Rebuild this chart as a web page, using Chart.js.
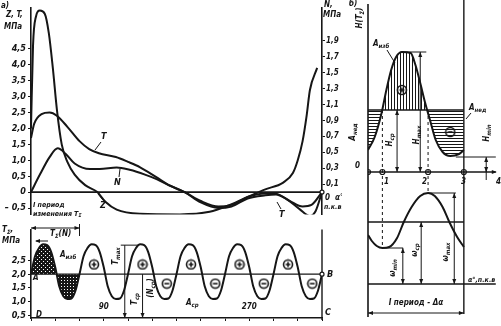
<!DOCTYPE html>
<html>
<head>
<meta charset="utf-8">
<script src="https://cdn.jsdelivr.net/npm/chart.js@4.4.1/dist/chart.umd.min.js"></script>
<style>
  body { margin: 0; background: #fff; width: 501px; height: 326px; overflow: hidden; position: relative; }
  .panel { position: absolute; }
</style>
</head>
<body>
<div class="panel" style="left:0;top:0;width:342px;height:222px"><canvas id="chartA"></canvas></div>
<div class="panel" style="left:0;top:222px;width:342px;height:104px"><canvas id="chartB"></canvas></div>
<div class="panel" style="left:340px;top:0;width:161px;height:326px"><canvas id="chartC"></canvas></div>
<script>
// --- panel a: forces over one crank revolution (deg) ---
const zAngles = [0, 2.5, 6, 11, 17, 22, 27, 32, 38, 45, 54, 67, 82, 92, 106, 135, 184, 221, 246, 271, 289, 312, 324, 330, 336, 341, 345, 354];
const zValues = [2.0, 4.6, 5.5, 5.7, 5.6, 5.0, 3.9, 2.6, 1.5, 0.95, 0.55, 0.22, 0, -0.3, -0.55, -0.68, -0.7, -0.62, -0.4, -0.12, 0.08, 0.3, 0.6, 1.0, 1.6, 2.4, 3.2, 3.9];
const tAngles = [0, 4, 13, 23, 32, 45, 60, 72, 84, 105, 120, 135, 155, 172, 190, 210, 232, 248, 268, 290, 303, 318, 333, 345, 352, 360];
const tValues = [1.7, 2.15, 2.45, 2.5, 2.4, 2.05, 1.6, 1.35, 1.22, 1.1, 0.95, 0.78, 0.47, 0.2, 0, -0.28, -0.45, -0.4, -0.15, -0.04, -0.05, -0.25, -0.55, -0.75, -0.6, 0];
const nAngles = [0, 11, 23, 33, 43, 54, 73, 85, 106, 122, 141, 156, 172, 190, 210, 232, 248, 268, 290, 303, 320, 336, 347, 360];
const nValues = [0, 0.22, 0.44, 0.55, 0.48, 0.36, 0.29, 0.29, 0.31, 0.28, 0.22, 0.16, 0.08, 0, -0.13, -0.2, -0.18, -0.08, -0.04, -0.03, -0.11, -0.18, -0.16, 0];
const leftTicks = [-0.5, 0, 0.5, 1.0, 1.5, 2.0, 2.5, 3.0, 3.5, 4.0, 4.5];
const rightTicks = [0.1, 0.3, 0.5, 0.7, 0.9, 1.1, 1.3, 1.5, 1.7, 1.9];

// --- lower left: total torque T_sum(N) ---
const sumAngles = [0, 5, 10, 15, 20, 25, 30, 35, 40, 45, 50, 55,
  60, 65, 70, 75, 80, 85, 90, 95, 100, 105, 110, 115,
  120, 125, 130, 135, 140, 145, 150, 155, 160, 165, 170, 175,
  180, 185, 190, 195, 200, 205, 210, 215, 220, 225, 230, 235,
  240, 245, 250, 255, 260, 265, 270, 275, 280, 285, 290, 295,
  300, 305, 310, 315, 320, 325, 330, 335, 340, 345, 350, 355, 360];
const sumValues = [2.0, 2.65, 2.95, 3.08, 3.05, 2.8, 2.25, 1.55, 1.2, 1.1, 1.12, 1.4,
  2.0, 2.65, 2.95, 3.08, 3.05, 2.8, 2.25, 1.55, 1.2, 1.1, 1.12, 1.4,
  2.0, 2.65, 2.95, 3.08, 3.05, 2.8, 2.25, 1.55, 1.2, 1.1, 1.12, 1.4,
  2.0, 2.65, 2.95, 3.08, 3.05, 2.8, 2.25, 1.55, 1.2, 1.1, 1.12, 1.4,
  2.0, 2.65, 2.95, 3.08, 3.05, 2.8, 2.25, 1.55, 1.2, 1.1, 1.12, 1.4,
  2.0, 2.65, 2.95, 3.08, 3.05, 2.8, 2.25, 1.55, 1.2, 1.1, 1.12, 1.4, 2.0];
const sumMean = 2.0;
const sumTicks = [0.5, 1.0, 1.5, 2.0, 2.5];
const sumAxisMarks = [0, 30, 60, 90, 120, 150, 180, 210, 240, 270, 300, 330, 360];
const plusAngles = [78, 138, 198, 258, 318];
const minusAngles = [168, 228, 288, 348];

// --- panel b: one period, phase units ---
const hPhase = [0, 4.2, 8.5, 11.5, 14.5, 17.6, 21.2, 26.7, 29.7, 32.7, 35.8, 38.8, 42.4, 46.7, 51.5, 57, 60];
const hValues = [2.2, 3.5, 5.9, 8.2, 10.2, 11.5, 12.0, 11.9, 10.7, 8.9, 6.9, 5.2, 3.2, 2.0, 1.6, 1.8, 2.2];
const hMean = 6.2;
const wPhase = [0, 2.4, 5.5, 9, 13.3, 18.2, 22.4, 27.3, 32.7, 37.6, 41.8, 46.7, 50.9, 55.8, 60];
const wValues = [4.9, 4.3, 3.8, 3.6, 3.7, 4.6, 6.2, 7.7, 8.8, 9.1, 8.8, 7.7, 6.2, 4.7, 3.7];
const wMean = 6.2;
const nodePhase = [0, 9, 37.6, 60];

const ink = '#161616';
const fontFamily = '"DejaVu Sans Condensed", "Liberation Sans Narrow", "DejaVu Sans", sans-serif';
Chart.defaults.font.family = fontFamily;
Chart.defaults.font.style = 'italic';
Chart.defaults.font.weight = 'bold';
Chart.defaults.font.size = 9;
Chart.defaults.color = ink;

const pts = (xs, ys) => xs.map((v, i) => ({x: v, y: ys[i]}));
const fmt = v => v === 0 ? '0' : (v < 0 ? '– ' : '') + Math.abs(v).toFixed(1).replace('.', ',');
const setTicks = list => scale => { scale.ticks = list.map(v => ({value: v})); };

// drawing helpers
function seg(ctx, x1, y1, x2, y2, w, dash) {
  ctx.save();
  ctx.strokeStyle = ink; ctx.lineWidth = w || 1.2;
  if (dash) ctx.setLineDash(dash);
  ctx.beginPath(); ctx.moveTo(x1, y1); ctx.lineTo(x2, y2); ctx.stroke();
  ctx.restore();
}
function head(ctx, x, y, ang) {
  ctx.save();
  ctx.translate(x, y); ctx.rotate(ang);
  ctx.fillStyle = ink;
  ctx.beginPath(); ctx.moveTo(0, 0); ctx.lineTo(-5, -2); ctx.lineTo(-5, 2); ctx.closePath(); ctx.fill();
  ctx.restore();
}
function dim(ctx, x, y1, y2) {
  seg(ctx, x, y1, x, y2, 1);
  head(ctx, x, y1, -Math.PI / 2);
  head(ctx, x, y2, Math.PI / 2);
}
function ring(ctx, x, y, r) {
  ctx.save();
  ctx.fillStyle = '#fff'; ctx.strokeStyle = ink; ctx.lineWidth = 1.2;
  ctx.beginPath(); ctx.arc(x, y, r, 0, 2 * Math.PI); ctx.fill(); ctx.stroke();
  ctx.restore();
}
function label(ctx, s, x, y, o) {
  o = o || {};
  const size = o.size || 9;
  ctx.save();
  ctx.translate(x, y);
  if (o.rot) ctx.rotate(o.rot);
  ctx.fillStyle = ink;
  ctx.textBaseline = 'middle';
  ctx.textAlign = 'left';
  ctx.font = `italic bold ${size}px ${fontFamily}`;
  const w1 = ctx.measureText(s).width;
  const subFont = `italic bold ${Math.round(size * 0.75)}px ${fontFamily}`;
  let w2 = 0, w3 = 0;
  if (o.sub) { ctx.font = subFont; w2 = ctx.measureText(o.sub).width; }
  if (o.tail) { ctx.font = `italic bold ${size}px ${fontFamily}`; w3 = ctx.measureText(o.tail).width; }
  const x0 = o.align === 'center' ? -(w1 + w2 + w3) / 2 : 0;
  ctx.font = `italic bold ${size}px ${fontFamily}`;
  ctx.fillText(s, x0, 0);
  if (o.sub) { ctx.font = subFont; ctx.fillText(o.sub, x0 + w1, size * 0.3); }
  if (o.tail) { ctx.font = `italic bold ${size}px ${fontFamily}`; ctx.fillText(o.tail, x0 + w1 + w2, 0); }
  ctx.restore();
}
function makePattern(w, h, draw) {
  const c = document.createElement('canvas');
  c.width = w; c.height = h;
  draw(c.getContext('2d'));
  return document.createElement('canvas').getContext('2d').createPattern(c, 'repeat');
}
function signImage(minus) {
  const c = document.createElement('canvas');
  c.width = c.height = 12;
  const g = c.getContext('2d');
  g.strokeStyle = ink; g.lineWidth = 1.6;
  g.beginPath(); g.arc(6, 6, 4.5, 0, 2 * Math.PI); g.stroke();
  g.beginPath(); g.moveTo(3.6, 6); g.lineTo(8.4, 6);
  if (!minus) { g.moveTo(6, 3.6); g.lineTo(6, 8.4); }
  g.stroke();
  return c;
}
const plusImg = signImage(false), minusImg = signImage(true);
const stipple = makePattern(4, 4, g => { g.fillStyle = ink; g.fillRect(0, 0, 4, 4); g.fillStyle = '#fff'; g.fillRect(1, 1, 1, 1); g.fillRect(3, 3, 1, 1); });
const gridDots = makePattern(3, 3, g => { g.fillStyle = ink; g.fillRect(0, 0, 3, 3); g.fillStyle = '#fff'; g.fillRect(1, 1, 1, 1); });
const vHatch = makePattern(3, 3, g => { g.fillStyle = ink; g.fillRect(0, 0, 1, 3); });
const hHatch = makePattern(3, 3, g => { g.fillStyle = ink; g.fillRect(0, 0, 3, 1); });

const curve = (data, axis) => ({
  data, yAxisID: axis, borderColor: ink, borderWidth: 2, pointRadius: 0,
  cubicInterpolationMode: 'monotone', fill: false
});
const axisStyle = {
  grid: {drawOnChartArea: false, tickLength: 3, color: ink, lineWidth: 1},
  border: {color: ink, width: 1.6}
};
const baseOptions = {
  animation: false, responsive: true, maintainAspectRatio: false,
  plugins: {legend: {display: false}, tooltip: {enabled: false}}
};

// panel a
const annotA = {
  id: 'annotA',
  afterDraw(chart) {
    const {ctx, scales: {x, y}} = chart;
    const y0 = y.getPixelForValue(0);
    seg(ctx, x.left, y0, x.right, y0, 1.6);
    ring(ctx, x.right, y0, 2);
    label(ctx, 'а)', 1, 6, {size: 8});
    label(ctx, 'Z, T,', 6, 15, {size: 8});
    label(ctx, 'МПа', 4, 27, {size: 8});
    label(ctx, 'N,', 324, 5, {size: 8});
    label(ctx, 'МПа', 323, 15, {size: 8});
    label(ctx, '0  α°', 325, 198, {size: 8});
    label(ctx, 'п.к.в.', 324, 207, {size: 7});
    label(ctx, 'T', 101, 137);
    seg(ctx, 101, 142, 95, 150, 1);
    label(ctx, 'N', 114, 183);
    seg(ctx, 119, 177, 120, 169, 1);
    label(ctx, 'Z', 100, 206);
    seg(ctx, 103, 200, 98, 194, 1);
    label(ctx, 'T', 279, 215);
    seg(ctx, 281, 209, 277, 202, 1);
    label(ctx, 'I период', 33, 205, {size: 7});
    label(ctx, 'изменения T', 33, 214, {size: 7, sub: 'Σ'});
  }
};
new Chart(document.getElementById('chartA'), {
  type: 'line',
  data: {datasets: [
    curve(pts(zAngles, zValues), 'y'),
    curve(pts(tAngles, tValues), 'y'),
    curve(pts(nAngles, nValues), 'y1')
  ]},
  options: {
    ...baseOptions,
    layout: {padding: {top: 6.4, bottom: 7.6, left: 0, right: 0}},
    scales: {
      x: {type: 'linear', min: 0, max: 360, display: false},
      y: {position: 'left', min: -0.7, max: 5.8, afterBuildTicks: setTicks(leftTicks),
        afterFit: s => { s.width = 31; }, ticks: {callback: fmt, padding: 2}, ...axisStyle},
      y1: {position: 'right', min: -0.28, max: 2.32, afterBuildTicks: setTicks(rightTicks),
        afterFit: s => { s.width = 20; }, ticks: {callback: fmt, padding: 1, font: {size: 8}}, ...axisStyle}
    }
  },
  plugins: [annotA]
});

// lower left panel
const annotB = {
  id: 'annotB',
  afterDraw(chart) {
    const {ctx, scales: {x, y}} = chart;
    const ym = y.getPixelForValue(sumMean);
    seg(ctx, x.left, ym, x.right, ym, 1.4);
    seg(ctx, x.right, chart.chartArea.top, x.right, chart.chartArea.bottom + 2, 1.4);
    ring(ctx, x.right, ym, 2);
    label(ctx, 'B', 327, ym);
    label(ctx, 'C', 325, 91);
    label(ctx, 'D', 36, 93, {size: 8});
    label(ctx, 'A', 33, 56, {size: 8});
    // one period of T_sum
    const xp = x.getPixelForValue(60);
    seg(ctx, x.left, 6, xp, 6, 1);
    head(ctx, xp, 6, 0); head(ctx, x.left, 6, Math.PI);
    seg(ctx, xp, 2, xp, 14, 1);
    label(ctx, 'T', 50, 12, {size: 8, sub: 'Σ', tail: '(N)'});
    seg(ctx, 48, 19, 36, 19, 1); head(ctx, 35, 19, Math.PI);
    label(ctx, 'T', 2, 8, {size: 8, sub: 'Σ', tail: ','});
    label(ctx, 'МПа', 2, 19, {size: 8});
    label(ctx, 'A', 60, 33, {size: 8, sub: 'изб'});
    // dimension marks
    const xt = x.getPixelForValue(116), yt = y.getPixelForValue(3.05);
    seg(ctx, xt - 4, yt, xt + 14, yt, 1);
    seg(ctx, xt, yt, xt, chart.chartArea.bottom, 1);
    head(ctx, xt, chart.chartArea.bottom, Math.PI / 2);
    label(ctx, 'T', 116, 34, {size: 8, sub: 'max', rot: -Math.PI / 2, align: 'center'});
    const xc = x.getPixelForValue(138);
    seg(ctx, xc, ym, xc, chart.chartArea.bottom, 1);
    head(ctx, xc, chart.chartArea.bottom, Math.PI / 2);
    label(ctx, 'T', 135, 77, {size: 8, sub: 'ср', rot: -Math.PI / 2, align: 'center'});
    label(ctx, '(N', 151, 66, {size: 8, sub: 'ср', tail: ')', rot: -Math.PI / 2, align: 'center'});
    label(ctx, 'A', 186, 81, {size: 8, sub: 'ср'});
    label(ctx, '90', x.getPixelForValue(90), 85, {size: 8, align: 'center'});
    label(ctx, '270', x.getPixelForValue(270), 85, {size: 8, align: 'center'});
  }
};
new Chart(document.getElementById('chartB'), {
  type: 'line',
  data: {datasets: [
    curve(pts(sumAngles, sumValues), 'y'),
    {...curve(pts(sumAngles.slice(0, 13), sumValues.slice(0, 13)), 'y'), borderWidth: 0,
      fill: {target: {value: sumMean}, above: stipple, below: gridDots}},
    {data: plusAngles.map(a => ({x: a, y: 2.35})), yAxisID: 'y', showLine: false, pointStyle: plusImg},
    {data: minusAngles.map(a => ({x: a, y: 1.66})), yAxisID: 'y', showLine: false, pointStyle: minusImg}
  ]},
  options: {
    ...baseOptions,
    layout: {padding: {top: 3, bottom: 0, left: 0, right: 20}},
    scales: {
      x: {type: 'linear', min: 0, max: 360, afterBuildTicks: setTicks(sumAxisMarks),
        ticks: {display: false}, afterFit: s => { s.height = 8; }, ...axisStyle},
      y: {min: 0.414, max: 3.62, afterBuildTicks: setTicks(sumTicks),
        afterFit: s => { s.width = 31; }, ticks: {callback: fmt, padding: 2}, ...axisStyle}
    }
  },
  plugins: [annotB]
});

// panel b
const annotC = {
  id: 'annotC',
  afterDraw(chart) {
    const {ctx, scales: {x, y, y2}} = chart;
    const px = v => x.getPixelForValue(v);
    const xL = px(0), xR = px(60), xE = px(80);
    const h0 = y.getPixelForValue(0), hm = y.getPixelForValue(hMean);
    const w0 = y2.getPixelForValue(0), wm = y2.getPixelForValue(wMean);
    seg(ctx, xL, 4, xL, 317, 1.6);
    seg(ctx, xR, 0, xR, 314, 1.4);
    seg(ctx, xL, hm, xR, hm, 1.4);
    seg(ctx, xL, h0, xE, h0, 1.4);
    head(ctx, xE + 1, h0, 0);
    seg(ctx, xL, wm, xR, wm, 1.4);
    seg(ctx, xL, w0, xE, w0, 1.4);
    // dashed projections
    seg(ctx, px(9), hm, px(9), y2.getPixelForValue(3.6), 1, [3, 3]);
    seg(ctx, px(37.6), hm, px(37.6), y2.getPixelForValue(9.1), 1, [3, 3]);
    // H dimensions
    dim(ctx, px(18.2), hm, h0);
    const hTop = y.getPixelForValue(12);
    seg(ctx, px(21), hTop, px(36.5), hTop, 1);
    dim(ctx, px(32.7), hTop, h0);
    const hLow = y.getPixelForValue(1.5);
    seg(ctx, px(55), hLow, px(80), hLow, 1);
    dim(ctx, px(74), hLow, h0);
    seg(ctx, px(74), h0 - 4, px(74), h0 + 8, 1);
    // omega dimensions
    const wLow = y2.getPixelForValue(3.6), wTop = y2.getPixelForValue(9.1);
    seg(ctx, px(9), wLow, px(22), wLow, 1);
    dim(ctx, px(21.8), wLow, w0);
    dim(ctx, px(33.3), wm, w0);
    seg(ctx, px(37.6), wTop, px(55), wTop, 1);
    dim(ctx, px(54), wTop, w0);
    // period arrow
    seg(ctx, xL, 313, xR, 313, 1);
    head(ctx, xL, 313, Math.PI); head(ctx, xR, 313, 0);
    label(ctx, 'I период - Δα', px(30), 303, {size: 8, align: 'center'});
    // texts
    label(ctx, 'б)', 9, 4, {size: 8});
    label(ctx, 'H(T', 20, 18, {size: 8, sub: 'Σ', tail: ')', rot: -Math.PI / 2, align: 'center'});
    label(ctx, 'A', 33, 44, {size: 8, sub: 'изб'});
    seg(ctx, 47, 50, 55, 63, 1);
    label(ctx, 'A', 129, 108, {size: 8, sub: 'нед'});
    seg(ctx, 131, 113, 126, 119, 1);
    label(ctx, 'A', 13, 132, {size: 8, sub: 'нед', rot: -Math.PI / 2, align: 'center'});
    label(ctx, 'H', 50, 140, {size: 8, sub: 'ср', rot: -Math.PI / 2, align: 'center'});
    label(ctx, 'H', 77, 135, {size: 8, sub: 'max', rot: -Math.PI / 2, align: 'center'});
    label(ctx, 'H', 147, 133, {size: 8, sub: 'min', rot: -Math.PI / 2, align: 'center'});
    label(ctx, '0', 15, 166, {size: 8});
    label(ctx, '1', 44, 182, {size: 8});
    label(ctx, '2', 82, 182, {size: 8});
    label(ctx, '3', 121, 182, {size: 8});
    label(ctx, '4', 156, 182, {size: 8});
    label(ctx, 'ω', 53, 268, {size: 8, sub: 'min', rot: -Math.PI / 2, align: 'center'});
    label(ctx, 'ω', 75, 250, {size: 8, sub: 'ср', rot: -Math.PI / 2, align: 'center'});
    label(ctx, 'ω', 106, 252, {size: 8, sub: 'max', rot: -Math.PI / 2, align: 'center'});
    label(ctx, 'α°,п.к.в', 128, 280, {size: 7});
  }
};
new Chart(document.getElementById('chartC'), {
  type: 'line',
  data: {datasets: [
    {...curve(pts(hPhase, hValues), 'y'), fill: {target: {value: hMean}, above: vHatch, below: hHatch}},
    curve(pts(wPhase, wValues), 'y2'),
    {data: nodePhase.map(p => ({x: p, y: 0})), yAxisID: 'y', showLine: false, pointRadius: 2.5,
      pointBackgroundColor: '#fff', pointBorderColor: ink, pointBorderWidth: 1.2},
    {data: [{x: 21.2, y: 8.2}, {x: 51.5, y: 4.0}], yAxisID: 'y', showLine: false, pointStyle: [plusImg, minusImg]}
  ]},
  options: {
    ...baseOptions,
    layout: {padding: {top: 7, bottom: 16, left: 28, right: 1}},
    scales: {
      x: {type: 'linear', min: 0, max: 80, display: false},
      y: {min: -13.8, max: 16.5, display: false},
      y2: {min: -2.6, max: 27.7, display: false}
    }
  },
  plugins: [annotC]
});
</script>
</body>
</html>
